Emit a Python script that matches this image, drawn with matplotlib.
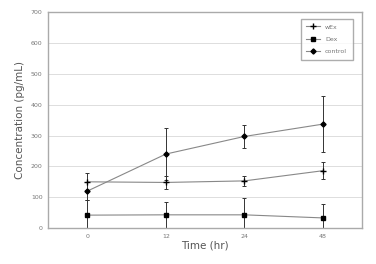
import numpy as np
import matplotlib.pyplot as plt
from matplotlib.lines import Line2D

times = ['0', '12', '24', '48']
labels = ['wEx', 'Dex', 'control']

wex_mean = [150, 148, 153, 186]
wex_err = [27, 22, 15, 27]

dex_mean = [42, 43, 43, 33]
dex_err = [50, 43, 55, 45]

control_mean = [120, 240, 297, 337]
control_err = [30, 85, 38, 90]

yticks = [0, 100, 200, 300, 400, 500, 600, 700]

fig = plt.figure(figsize=(3.76, 2.64), dpi=100)
ax = fig.add_axes([0.128, 0.136, 0.835, 0.818])

x = np.arange(len(times))
line_kw = dict(color='#888888', lw=0.8, ecolor='#333333', elinewidth=0.7, capsize=1.5, capthick=0.7, mfc='black', mec='black')

markers = ['+', 's', 'D']
sizes = [4, 3.2, 2.6]
ax.errorbar(x, wex_mean, yerr=wex_err, marker=markers[0], ms=sizes[0], **line_kw)
ax.errorbar(x, dex_mean, yerr=dex_err, marker=markers[1], ms=sizes[1], **line_kw)
ax.errorbar(x, control_mean, yerr=control_err, marker=markers[2], ms=sizes[2], **line_kw)

ax.set_xlim(-0.5, 3.5)
ax.set_ylim(0, 700)
ax.set_xticks(x)
ax.set_xticklabels(times)
ax.set_yticks(yticks)
ax.tick_params(labelsize=4.5, colors='#777777', length=0, pad=4)
ax.yaxis.grid(True, color='#dddddd', lw=0.7)
ax.set_axisbelow(True)
for s in ax.spines.values():
    s.set_color('#aaaaaa')
    s.set_linewidth(1.0)

ax.set_xlabel('Time (hr)', fontsize=7.5, color='#555555', labelpad=1)
ax.set_ylabel('Concentration (pg/mL)', fontsize=7.5, color='#555555', labelpad=4)

handles = [Line2D([], [], color='#888888', lw=0.8, marker=m, ms=ms, mfc='black', mec='black')
           for m, ms in zip(markers, sizes)]
leg = ax.legend(handles, labels, loc='upper right', fontsize=4.5, frameon=True, fancybox=False,
                edgecolor='#999999', borderpad=0.9, labelspacing=1.1, handlelength=2.2,
                bbox_to_anchor=(0.98, 0.985))
for t in leg.get_texts():
    t.set_color('#777777')

plt.savefig('out.png', dpi=100)
plt.close()
